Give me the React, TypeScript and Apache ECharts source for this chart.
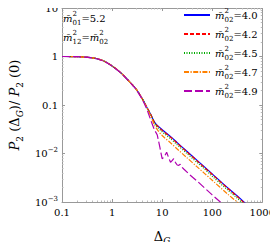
import React, { useEffect, useRef } from "react";
import * as echarts from "echarts";

const xs = [0.1, 0.15, 0.2, 0.3, 0.4, 0.5, 0.7, 1, 1.5, 2, 3, 4, 5, 6, 7, 8, 10, 15, 20, 30, 50, 70, 100, 200, 300, 500, 700, 1000];
const blue = [1, 0.998, 0.99, 0.97, 0.94, 0.9, 0.8, 0.64, 0.46, 0.34, 0.215, 0.135, 0.088, 0.062, 0.045, 0.038, 0.031, 0.022, 0.0168, 0.0115, 0.0072, 0.0053, 0.0038, 0.002, 0.0014, 0.00087, 0.00063, 0.00046];
const red = [1, 0.998, 0.99, 0.97, 0.94, 0.9, 0.8, 0.64, 0.46, 0.34, 0.215, 0.135, 0.088, 0.062, 0.044, 0.037, 0.03, 0.0213, 0.0163, 0.0112, 0.007, 0.0051, 0.0037, 0.00194, 0.00136, 0.00084, 0.00061, 0.00045];
const green = [1, 0.998, 0.99, 0.97, 0.94, 0.9, 0.8, 0.64, 0.46, 0.34, 0.215, 0.135, 0.088, 0.06, 0.043, 0.035, 0.028, 0.0198, 0.0151, 0.0104, 0.0065, 0.0048, 0.0034, 0.0018, 0.00126, 0.00078, 0.00057, 0.00041];
const orange = [1, 0.998, 0.99, 0.97, 0.94, 0.9, 0.8, 0.64, 0.46, 0.34, 0.215, 0.135, 0.086, 0.057, 0.039, 0.031, 0.0235, 0.0163, 0.0124, 0.0085, 0.0053, 0.0039, 0.0028, 0.00148, 0.00104, 0.00064, 0.00047, 0.00034];
const xsPurple = [0.1, 0.15, 0.2, 0.3, 0.4, 0.5, 0.7, 1, 1.5, 2, 3, 4, 5, 6, 7, 8, 9, 10, 11, 12.3, 13.5, 14.7, 16, 17, 18.5, 20, 21.5, 23, 25, 27, 36, 50, 100, 150, 200, 300];
const purple = [1, 0.998, 0.99, 0.97, 0.94, 0.9, 0.8, 0.64, 0.46, 0.34, 0.213, 0.132, 0.08, 0.047, 0.031, 0.024, 0.0135, 0.0078, 0.0085, 0.0106, 0.0082, 0.0066, 0.0072, 0.0078, 0.0065, 0.0058, 0.0057, 0.006, 0.0052, 0.0048, 0.0036, 0.0027, 0.0014, 0.00097, 0.00075, 0.0005];

const seriesNames = ["4.0", "4.2", "4.5", "4.7", "4.9"];
const seriesColors = ["#0000ff", "#ff0000", "#00aa00", "#ff8000", "#b000b0"];
const seriesDash: any[] = ["solid", [4, 2], [1, 1.5], [5, 1.5, 1.2, 1.5], [8, 3]];

const xTickLabels: Record<string, string> = { "0.1": "0.1", "1": "1", "10": "10", "100": "100", "1000": "1000" };
const yTickLabels: Record<string, string> = {
  "10": "{b|10}",
  "1": "{b|1}",
  "0.1": "{b|0.1}",
  "0.01": "{b|10}{sup|−2}",
  "0.001": "{b|10}{sup|−3}",
};

const FONT = "DejaVu Serif";

const mRich = {
  m: { fontFamily: FONT, fontStyle: "italic", fontSize: 10, color: "#000", lineHeight: 16, verticalAlign: "middle" },
  sup: { fontFamily: FONT, fontSize: 7, color: "#000", width: 0, lineHeight: 10, verticalAlign: "top" },
  sub: { fontFamily: FONT, fontSize: 7, color: "#000", lineHeight: 9, verticalAlign: "bottom" },
  t: { fontFamily: FONT, fontSize: 10, color: "#000", lineHeight: 16, verticalAlign: "middle" },
};

function mLabel(sub: string) {
  return `{m|m\u0304}{sup|2}{sub|${sub}}`;
}

function fmtKey(v: number) {
  const r = Math.round(Math.log10(v));
  return String(Number(Math.pow(10, r).toPrecision(1)));
}

export default function App() {
  const ref = useRef<HTMLDivElement>(null);
  useEffect(() => {
    if (!ref.current) return;
    const chart = echarts.init(ref.current, null, { renderer: "svg" });
    const sets = [
      { x: xs, y: blue },
      { x: xs, y: red },
      { x: xs, y: green },
      { x: xs, y: orange },
      { x: xsPurple, y: purple },
    ];
    const axisCommon = {
      axisLine: { show: true, lineStyle: { color: "#999", width: 1 } },
      axisTick: { show: true, inside: true, length: 3, lineStyle: { color: "#999" } },
      minorTick: { show: true, splitNumber: 9, length: 1.5, lineStyle: { color: "#bbb" } },
      splitLine: { show: false },
      minorSplitLine: { show: false },
    };
    chart.setOption({
      animation: false,
      grid: { left: 59, right: 14, top: 8, bottom: 40 },
      legend: {
        orient: "vertical",
        left: 183,
        top: 7,
        padding: 0,
        itemWidth: 26,
        itemHeight: 10,
        itemGap: 3,
        data: seriesNames,
        itemStyle: { opacity: 0, borderWidth: 0 },
        formatter: (name: string) => `${mLabel("02")}{t|=${name}}`,
        textStyle: { fontFamily: FONT, fontSize: 10, color: "#000", rich: mRich },
      },
      xAxis: [
        {
          type: "log",
          min: 0.1,
          max: 1000,
          logBase: 10,
          position: "bottom",
          name: "{d|Δ}{g|G}",
          nameLocation: "middle",
          nameGap: 25,
          nameTextStyle: {
            rich: {
              d: { fontFamily: FONT, fontSize: 13, color: "#000", lineHeight: 18, verticalAlign: "middle" },
              g: { fontFamily: FONT, fontStyle: "italic", fontSize: 9, color: "#000", lineHeight: 11, verticalAlign: "bottom" },
            },
          },
          axisLabel: {
            fontFamily: FONT,
            fontSize: 10,
            color: "#000",
            margin: 5,
            formatter: (v: number) => xTickLabels[fmtKey(v)] ?? "",
          },
          ...axisCommon,
        },
        {
          type: "log",
          min: 0.1,
          max: 1000,
          position: "top",
          axisLabel: { show: false },
          ...axisCommon,
        },
      ],
      yAxis: [
        {
          type: "log",
          min: 0.001,
          max: 10,
          logBase: 10,
          position: "left",
          name: "{P|P\u0304}{s|2}{t| (Δ}{g|G}{t|)/ }{P|P\u0304}{s|2}{t| (0)}",
          nameLocation: "middle",
          nameRotate: 90,
          nameGap: 38,
          nameTextStyle: {
            rich: {
              P: { fontFamily: FONT, fontStyle: "italic", fontSize: 13, color: "#000", lineHeight: 19, verticalAlign: "middle" },
              s: { fontFamily: FONT, fontSize: 9, color: "#000", lineHeight: 12, verticalAlign: "bottom" },
              t: { fontFamily: FONT, fontSize: 13, color: "#000", lineHeight: 19, verticalAlign: "middle" },
              g: { fontFamily: FONT, fontStyle: "italic", fontSize: 9, color: "#000", lineHeight: 12, verticalAlign: "bottom" },
            },
          },
          axisLabel: {
            fontFamily: FONT,
            fontSize: 10,
            color: "#000",
            margin: 4,
            formatter: (v: number) => yTickLabels[fmtKey(v)] ?? "",
            rich: {
              b: { fontFamily: FONT, fontSize: 10, color: "#000", lineHeight: 14, verticalAlign: "middle" },
              sup: { fontFamily: FONT, fontSize: 7, color: "#000", lineHeight: 9, verticalAlign: "top" },
            },
          },
          ...axisCommon,
        },
        {
          type: "log",
          min: 0.001,
          max: 10,
          position: "right",
          axisLabel: { show: false },
          ...axisCommon,
        },
      ],
      graphic: [
        {
          type: "text",
          x: 63,
          y: 18,
          style: {
            text: `${mLabel("01")}{t|=5.2}`,
            rich: mRich,
            verticalAlign: "middle",
          },
        },
        {
          type: "text",
          x: 63,
          y: 37,
          style: {
            text: `${mLabel("12")}{t|=}${mLabel("02")}`,
            rich: mRich,
            verticalAlign: "middle",
          },
        },
      ],
      series: sets.map((s, i) => ({
        type: "line",
        name: seriesNames[i],
        xAxisIndex: 0,
        yAxisIndex: 0,
        symbol: "none",
        showSymbol: false,
        smooth: i === 4 ? false : 0.3,
        clip: true,
        lineStyle: { color: seriesColors[i], width: 1.2, type: seriesDash[i] },
        itemStyle: { color: seriesColors[i] },
        data: s.x.map((x, j) => [x, s.y[j]]),
      })),
    });
    return () => chart.dispose();
  }, []);
  return <div ref={ref} style={{ width: 278, height: 250, margin: -8 }} />;
}
